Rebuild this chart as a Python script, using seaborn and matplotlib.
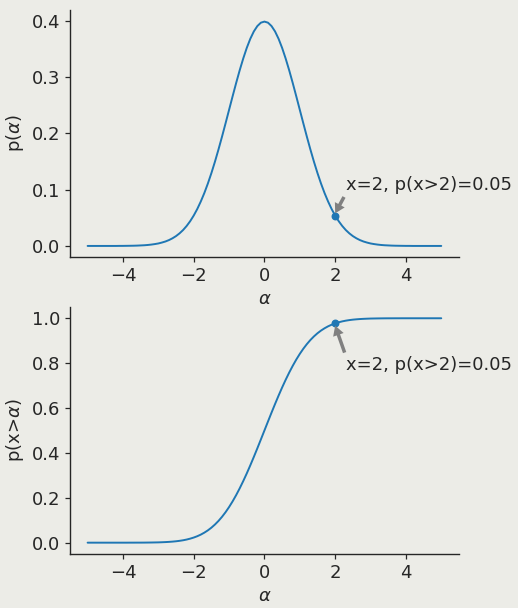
import matplotlib
matplotlib.use('Agg')
import matplotlib.pyplot as plt
import numpy as np
import pandas as pd
import seaborn as sns

# sampling grid, step 0.1 from -5 to 5
alpha = np.round(np.linspace(-5, 5, 101), 1)

# values
pdf = [0.0000, 0.0000, 0.0000, 0.0000, 0.0000, 0.0000, 0.0000, 0.0000, 0.0000, 0.0001,
       0.0001, 0.0002, 0.0003, 0.0004, 0.0006, 0.0009, 0.0012, 0.0017, 0.0024, 0.0033,
       0.0044, 0.0060, 0.0079, 0.0104, 0.0136, 0.0175, 0.0224, 0.0283, 0.0355, 0.0440,
       0.0540, 0.0656, 0.0790, 0.0940, 0.1109, 0.1295, 0.1497, 0.1714, 0.1942, 0.2179,
       0.2420, 0.2661, 0.2897, 0.3123, 0.3332, 0.3521, 0.3683, 0.3814, 0.3910, 0.3970,
       0.3989,
       0.3970, 0.3910, 0.3814, 0.3683, 0.3521, 0.3332, 0.3123, 0.2897, 0.2661, 0.2420,
       0.2179, 0.1942, 0.1714, 0.1497, 0.1295, 0.1109, 0.0940, 0.0790, 0.0656, 0.0540,
       0.0440, 0.0355, 0.0283, 0.0224, 0.0175, 0.0136, 0.0104, 0.0079, 0.0060, 0.0044,
       0.0033, 0.0024, 0.0017, 0.0012, 0.0009, 0.0006, 0.0004, 0.0003, 0.0002, 0.0001,
       0.0001, 0.0000, 0.0000, 0.0000, 0.0000, 0.0000, 0.0000, 0.0000, 0.0000, 0.0000]
cdf = [0.0000, 0.0000, 0.0000, 0.0000, 0.0000, 0.0000, 0.0000, 0.0000, 0.0000, 0.0000,
       0.0000, 0.0000, 0.0001, 0.0001, 0.0002, 0.0002, 0.0003, 0.0005, 0.0007, 0.0010,
       0.0013, 0.0019, 0.0026, 0.0035, 0.0047, 0.0062, 0.0082, 0.0107, 0.0139, 0.0179,
       0.0228, 0.0287, 0.0359, 0.0446, 0.0548, 0.0668, 0.0808, 0.0968, 0.1151, 0.1357,
       0.1587, 0.1841, 0.2119, 0.2420, 0.2743, 0.3085, 0.3446, 0.3821, 0.4207, 0.4602,
       0.5000,
       0.5398, 0.5793, 0.6179, 0.6554, 0.6915, 0.7257, 0.7580, 0.7881, 0.8159, 0.8413,
       0.8643, 0.8849, 0.9032, 0.9192, 0.9332, 0.9452, 0.9554, 0.9641, 0.9713, 0.9772,
       0.9821, 0.9861, 0.9893, 0.9918, 0.9938, 0.9953, 0.9965, 0.9974, 0.9981, 0.9987,
       0.9990, 0.9993, 0.9995, 0.9997, 0.9998, 0.9998, 0.9999, 0.9999, 1.0000, 1.0000,
       1.0000, 1.0000, 1.0000, 1.0000, 1.0000, 1.0000, 1.0000, 1.0000, 1.0000, 1.0000]
pt_x = 2
pt_pdf = 0.054
pt_cdf = 0.977
note = 'x=2, p(x>2)=0.05'

df = pd.DataFrame({'alpha': alpha, 'pdf': pdf, 'cdf': cdf})

bg = '#ECECE7'
sns.set_theme(style='ticks', rc={'figure.facecolor': bg, 'axes.facecolor': bg,
                                 'savefig.facecolor': bg,
                                 'xtick.major.size': 3.5, 'ytick.major.size': 3.5,
                                 'xtick.major.width': 0.9, 'ytick.major.width': 0.9,
                                 'xtick.major.pad': 3.5, 'ytick.major.pad': 3.5,
                                 'axes.linewidth': 1.0})
plt.rcParams['font.family'] = ['DejaVu Sans']
plt.rcParams['font.size'] = 13
plt.rcParams['axes.labelsize'] = 13
plt.rcParams['xtick.labelsize'] = 13
plt.rcParams['ytick.labelsize'] = 13

fig = plt.figure(figsize=(5.18, 6.08), dpi=100)
ax1 = fig.add_axes([0.135, 0.577, 0.751, 0.407])
ax2 = fig.add_axes([0.135, 0.089, 0.751, 0.406])

arrow = dict(facecolor='grey', edgecolor='none', width=2.5, headwidth=8, headlength=7, shrink=0.0)

# density
sns.lineplot(data=df, x='alpha', y='pdf', ax=ax1, color='#1f77b4', linewidth=1.4)
ax1.scatter([pt_x], [pt_pdf], color='#1f77b4', s=22, zorder=3)
ax1.annotate(note, xy=(pt_x, pt_pdf + 0.004), xytext=(2.3, 0.1), fontsize=13,
             color='#262626', arrowprops=arrow, annotation_clip=False)
ax1.set_xlabel(r'$\alpha$')
ax1.set_ylabel(r'p($\alpha$)')
ax1.set_yticks([0.0, 0.1, 0.2, 0.3, 0.4])
ax1.set_ylim(-0.02, 0.42)

# cumulative
sns.lineplot(data=df, x='alpha', y='cdf', ax=ax2, color='#1f77b4', linewidth=1.4)
ax2.scatter([pt_x], [pt_cdf], color='#1f77b4', s=22, zorder=3)
ax2.annotate(note, xy=(pt_x, pt_cdf - 0.01), xytext=(2.3, 0.77), fontsize=13,
             color='#262626', arrowprops=arrow, annotation_clip=False)
ax2.set_xlabel(r'$\alpha$')
ax2.set_ylabel(r'p(x>$\alpha$)')
ax2.set_yticks([0.0, 0.2, 0.4, 0.6, 0.8, 1.0])
ax2.set_ylim(-0.05, 1.05)

for ax in (ax1, ax2):
    ax.set_xlim(-5.5, 5.5)
    ax.set_xticks([-4, -2, 0, 2, 4])
    sns.despine(ax=ax)

fig.savefig('out.png', dpi=100)
